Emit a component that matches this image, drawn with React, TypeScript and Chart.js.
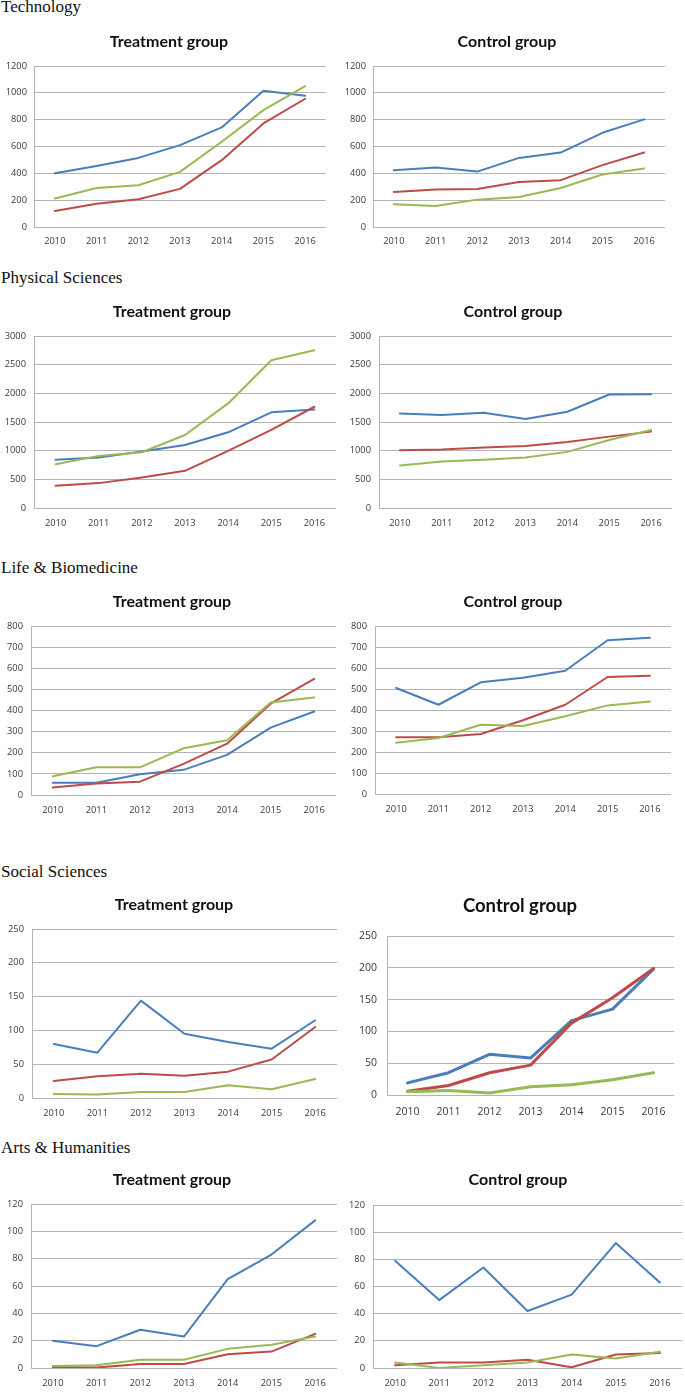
import React, { useEffect, useRef } from 'react';
import { Chart, registerables } from 'chart.js';

Chart.register(...registerables);

const years = ['2010', '2011', '2012', '2013', '2014', '2015', '2016'];
const sections = ['Technology', 'Physical Sciences', 'Life & Biomedicine', 'Social Sciences', 'Arts & Humanities'];

// Technology
const techTreatBlue = [400, 455, 515, 610, 742, 1016, 978];
const techTreatRed = [120, 174, 207, 284, 498, 772, 956];
const techTreatGreen = [212, 291, 311, 411, 635, 871, 1050];
const techCtrlBlue = [423, 443, 413, 515, 555, 702, 802];
const techCtrlRed = [261, 279, 284, 336, 349, 461, 555];
const techCtrlGreen = [169, 157, 204, 224, 291, 391, 436];

// Physical Sciences
const physTreatBlue = [840, 880, 984, 1100, 1320, 1668, 1720];
const physTreatRed = [388, 434, 533, 648, 996, 1361, 1766];
const physTreatGreen = [764, 909, 973, 1274, 1824, 2577, 2750];
const physCtrlBlue = [1650, 1621, 1662, 1552, 1679, 1980, 1985];
const physCtrlRed = [1007, 1019, 1054, 1083, 1152, 1245, 1332];
const physCtrlGreen = [741, 811, 840, 880, 979, 1187, 1361];

// Life & Biomedicine
const lifeTreatBlue = [58, 58, 98, 119, 190, 319, 395];
const lifeTreatRed = [35, 54, 63, 147, 243, 432, 550];
const lifeTreatGreen = [89, 131, 131, 221, 259, 438, 462];
const lifeCtrlBlue = [505, 425, 532, 554, 587, 732, 744];
const lifeCtrlRed = [270, 270, 286, 351, 425, 557, 563];
const lifeCtrlGreen = [244, 267, 330, 324, 370, 422, 441];

// Social Sciences
const socTreatBlue = [80, 67, 144, 95, 83, 73, 115];
const socTreatRed = [25, 32, 36, 33, 39, 57, 105];
const socTreatGreen = [6, 5, 9, 9, 19, 13, 28];
const socCtrlBlue = [19, 35, 64, 58, 117, 135, 198];
const socCtrlRed = [6, 15, 35, 47, 113, 153, 199];
const socCtrlGreen = [5, 7, 3, 13, 16, 24, 35];

// Arts & Humanities
const artsTreatBlue = [20, 16, 28, 23, 65, 83, 108];
const artsTreatRed = [0.5, 0.3, 3, 3, 10, 12, 25];
const artsTreatGreen = [1.5, 2, 6, 6, 14, 17, 23];
const artsCtrlBlue = [79, 50, 74, 42, 54, 92, 63];
const artsCtrlRed = [2, 4, 4, 6, 0.5, 10, 11];
const artsCtrlGreen = [4, 0, 2, 4, 10, 7, 12];

const BLUE = '#4A7EBB';
const RED = '#BE4B48';
const GREEN = '#98B954';
const GRID = '#b4b4b4';
const TICK = '#3a3a3a';

type PanelCfg = {
  title: string;
  titleX: number; titleY: number; titleSize: number;
  left: number; right: number; top: number; bottom: number;
  yMax: number; yStep: number;
  tickSize: number; lineWidth: number; yPad: number; xPad: number;
  blue: number[]; red: number[]; green: number[];
};

const panels: PanelCfg[] = [
  { title: 'Treatment group', titleX: 169, titleY: 47, titleSize: 16, left: 34, right: 326, top: 66, bottom: 227, yMax: 1200, yStep: 200, tickSize: 9.3, lineWidth: 2, yPad: 7, xPad: 9, blue: techTreatBlue, red: techTreatRed, green: techTreatGreen },
  { title: 'Control group', titleX: 507, titleY: 47, titleSize: 16, left: 373, right: 665, top: 66, bottom: 227, yMax: 1200, yStep: 200, tickSize: 9.3, lineWidth: 2, yPad: 7, xPad: 9, blue: techCtrlBlue, red: techCtrlRed, green: techCtrlGreen },
  { title: 'Treatment group', titleX: 172, titleY: 317, titleSize: 16, left: 34, right: 336, top: 336, bottom: 508, yMax: 3000, yStep: 500, tickSize: 9.3, lineWidth: 2, yPad: 8, xPad: 10, blue: physTreatBlue, red: physTreatRed, green: physTreatGreen },
  { title: 'Control group', titleX: 513, titleY: 317, titleSize: 16, left: 379, right: 672, top: 336, bottom: 508, yMax: 3000, yStep: 500, tickSize: 9.3, lineWidth: 2, yPad: 8, xPad: 10, blue: physCtrlBlue, red: physCtrlRed, green: physCtrlGreen },
  { title: 'Treatment group', titleX: 172, titleY: 607, titleSize: 16, left: 31, right: 336, top: 626, bottom: 795, yMax: 800, yStep: 100, tickSize: 9.3, lineWidth: 2, yPad: 8, xPad: 10, blue: lifeTreatBlue, red: lifeTreatRed, green: lifeTreatGreen },
  { title: 'Control group', titleX: 513, titleY: 607, titleSize: 16, left: 375, right: 671, top: 626, bottom: 794, yMax: 800, yStep: 100, tickSize: 9.3, lineWidth: 2, yPad: 8, xPad: 10, blue: lifeCtrlBlue, red: lifeCtrlRed, green: lifeCtrlGreen },
  { title: 'Treatment group', titleX: 174, titleY: 910, titleSize: 16, left: 32, right: 337, top: 929, bottom: 1098, yMax: 250, yStep: 50, tickSize: 9.3, lineWidth: 2, yPad: 8, xPad: 10, blue: socTreatBlue, red: socTreatRed, green: socTreatGreen },
  { title: 'Control group', titleX: 520, titleY: 912, titleSize: 18.5, left: 387, right: 674, top: 936, bottom: 1095, yMax: 250, yStep: 50, tickSize: 10.5, lineWidth: 3, yPad: 10, xPad: 11, blue: socCtrlBlue, red: socCtrlRed, green: socCtrlGreen },
  { title: 'Treatment group', titleX: 172, titleY: 1185, titleSize: 16, left: 31, right: 337, top: 1204, bottom: 1368, yMax: 120, yStep: 20, tickSize: 9.3, lineWidth: 2, yPad: 8, xPad: 10, blue: artsTreatBlue, red: artsTreatRed, green: artsTreatGreen },
  { title: 'Control group', titleX: 518, titleY: 1185, titleSize: 16, left: 373, right: 682, top: 1205, bottom: 1368, yMax: 120, yStep: 20, tickSize: 9.3, lineWidth: 2, yPad: 8, xPad: 10, blue: artsCtrlBlue, red: artsCtrlRed, green: artsCtrlGreen },
];

const sectionBaselines = [12, 283, 573, 877, 1153];

function Panel({ p }: { p: PanelCfg }) {
  const ref = useRef<HTMLCanvasElement | null>(null);
  const cl = Math.max(0, p.left - 36);
  const ct = p.titleY - 22;
  const cr = Math.min(685, p.right + 3);
  const cb = p.bottom + 26;
  const cw = cr - cl;
  const ch = cb - ct;

  useEffect(() => {
    if (!ref.current) return;
    const titlePlugin = {
      id: 'panelTitle',
      afterDraw(chart: any) {
        const ctx = chart.ctx;
        ctx.save();
        ctx.font = `bold ${p.titleSize}px Lato, "Open Sans", sans-serif`;
        ctx.fillStyle = '#111';
        ctx.textAlign = 'center';
        ctx.textBaseline = 'alphabetic';
        ctx.fillText(p.title, p.titleX - cl, p.titleY - ct);
        ctx.restore();
      },
    };
    const mk = (label: string, data: number[], color: string, order: number) => ({
      label, data, borderColor: color, backgroundColor: color,
      borderWidth: p.lineWidth, pointRadius: 0, tension: 0, fill: false, order,
      borderJoinStyle: 'round' as const, borderCapStyle: 'round' as const,
    });
    const chart = new Chart(ref.current, {
      type: 'line',
      data: {
        labels: years,
        datasets: [
          mk('Blue', p.blue, BLUE, 3),
          mk('Red', p.red, RED, 2),
          mk('Green', p.green, GREEN, 1),
        ],
      },
      options: {
        responsive: false,
        animation: false,
        events: [],
        layout: {
          autoPadding: false,
          padding: { top: p.top - ct, right: cr - p.right, left: 0, bottom: 0 },
        },
        plugins: { legend: { display: false }, tooltip: { enabled: false }, title: { display: false } },
        scales: {
          x: {
            type: 'category',
            offset: true,
            grid: { display: false, drawTicks: false },
            border: { display: false },
            ticks: {
              color: TICK, font: { family: '"Open Sans", sans-serif', size: p.tickSize },
              padding: p.xPad, autoSkip: false, maxRotation: 0,
            },
            afterFit(scale: any) { scale.height = cb - p.bottom; },
          },
          y: {
            min: 0, max: p.yMax,
            grid: { color: GRID, lineWidth: 1, drawTicks: false },
            border: { display: true, color: GRID, width: 1 },
            ticks: {
              stepSize: p.yStep, color: TICK,
              font: { family: '"Open Sans", sans-serif', size: p.tickSize },
              padding: p.yPad,
              callback: (v: any) => String(v),
            },
            afterFit(scale: any) { scale.width = p.left - cl; },
          },
        },
      },
      plugins: [titlePlugin],
    });
    return () => chart.destroy();
  }, []);

  return (
    <div style={{ position: 'absolute', left: cl, top: ct, width: cw, height: ch }}>
      <canvas ref={ref} width={cw} height={ch} style={{ width: cw, height: ch, display: 'block' }} />
    </div>
  );
}

export default function App() {
  return (
    <div style={{ position: 'absolute', left: 0, top: 0, width: 685, height: 1394, background: '#fff', overflow: 'hidden' }}>
      {sections.map((s, i) => (
        <div key={s} style={{
          position: 'absolute', left: 1, top: sectionBaselines[i] - 14,
          fontFamily: '"Liberation Serif", "Times New Roman", serif', fontSize: 17, lineHeight: '17px', color: '#111', whiteSpace: 'nowrap',
        }}>{s}</div>
      ))}
      {panels.map((p, i) => <Panel key={i} p={p} />)}
    </div>
  );
}
